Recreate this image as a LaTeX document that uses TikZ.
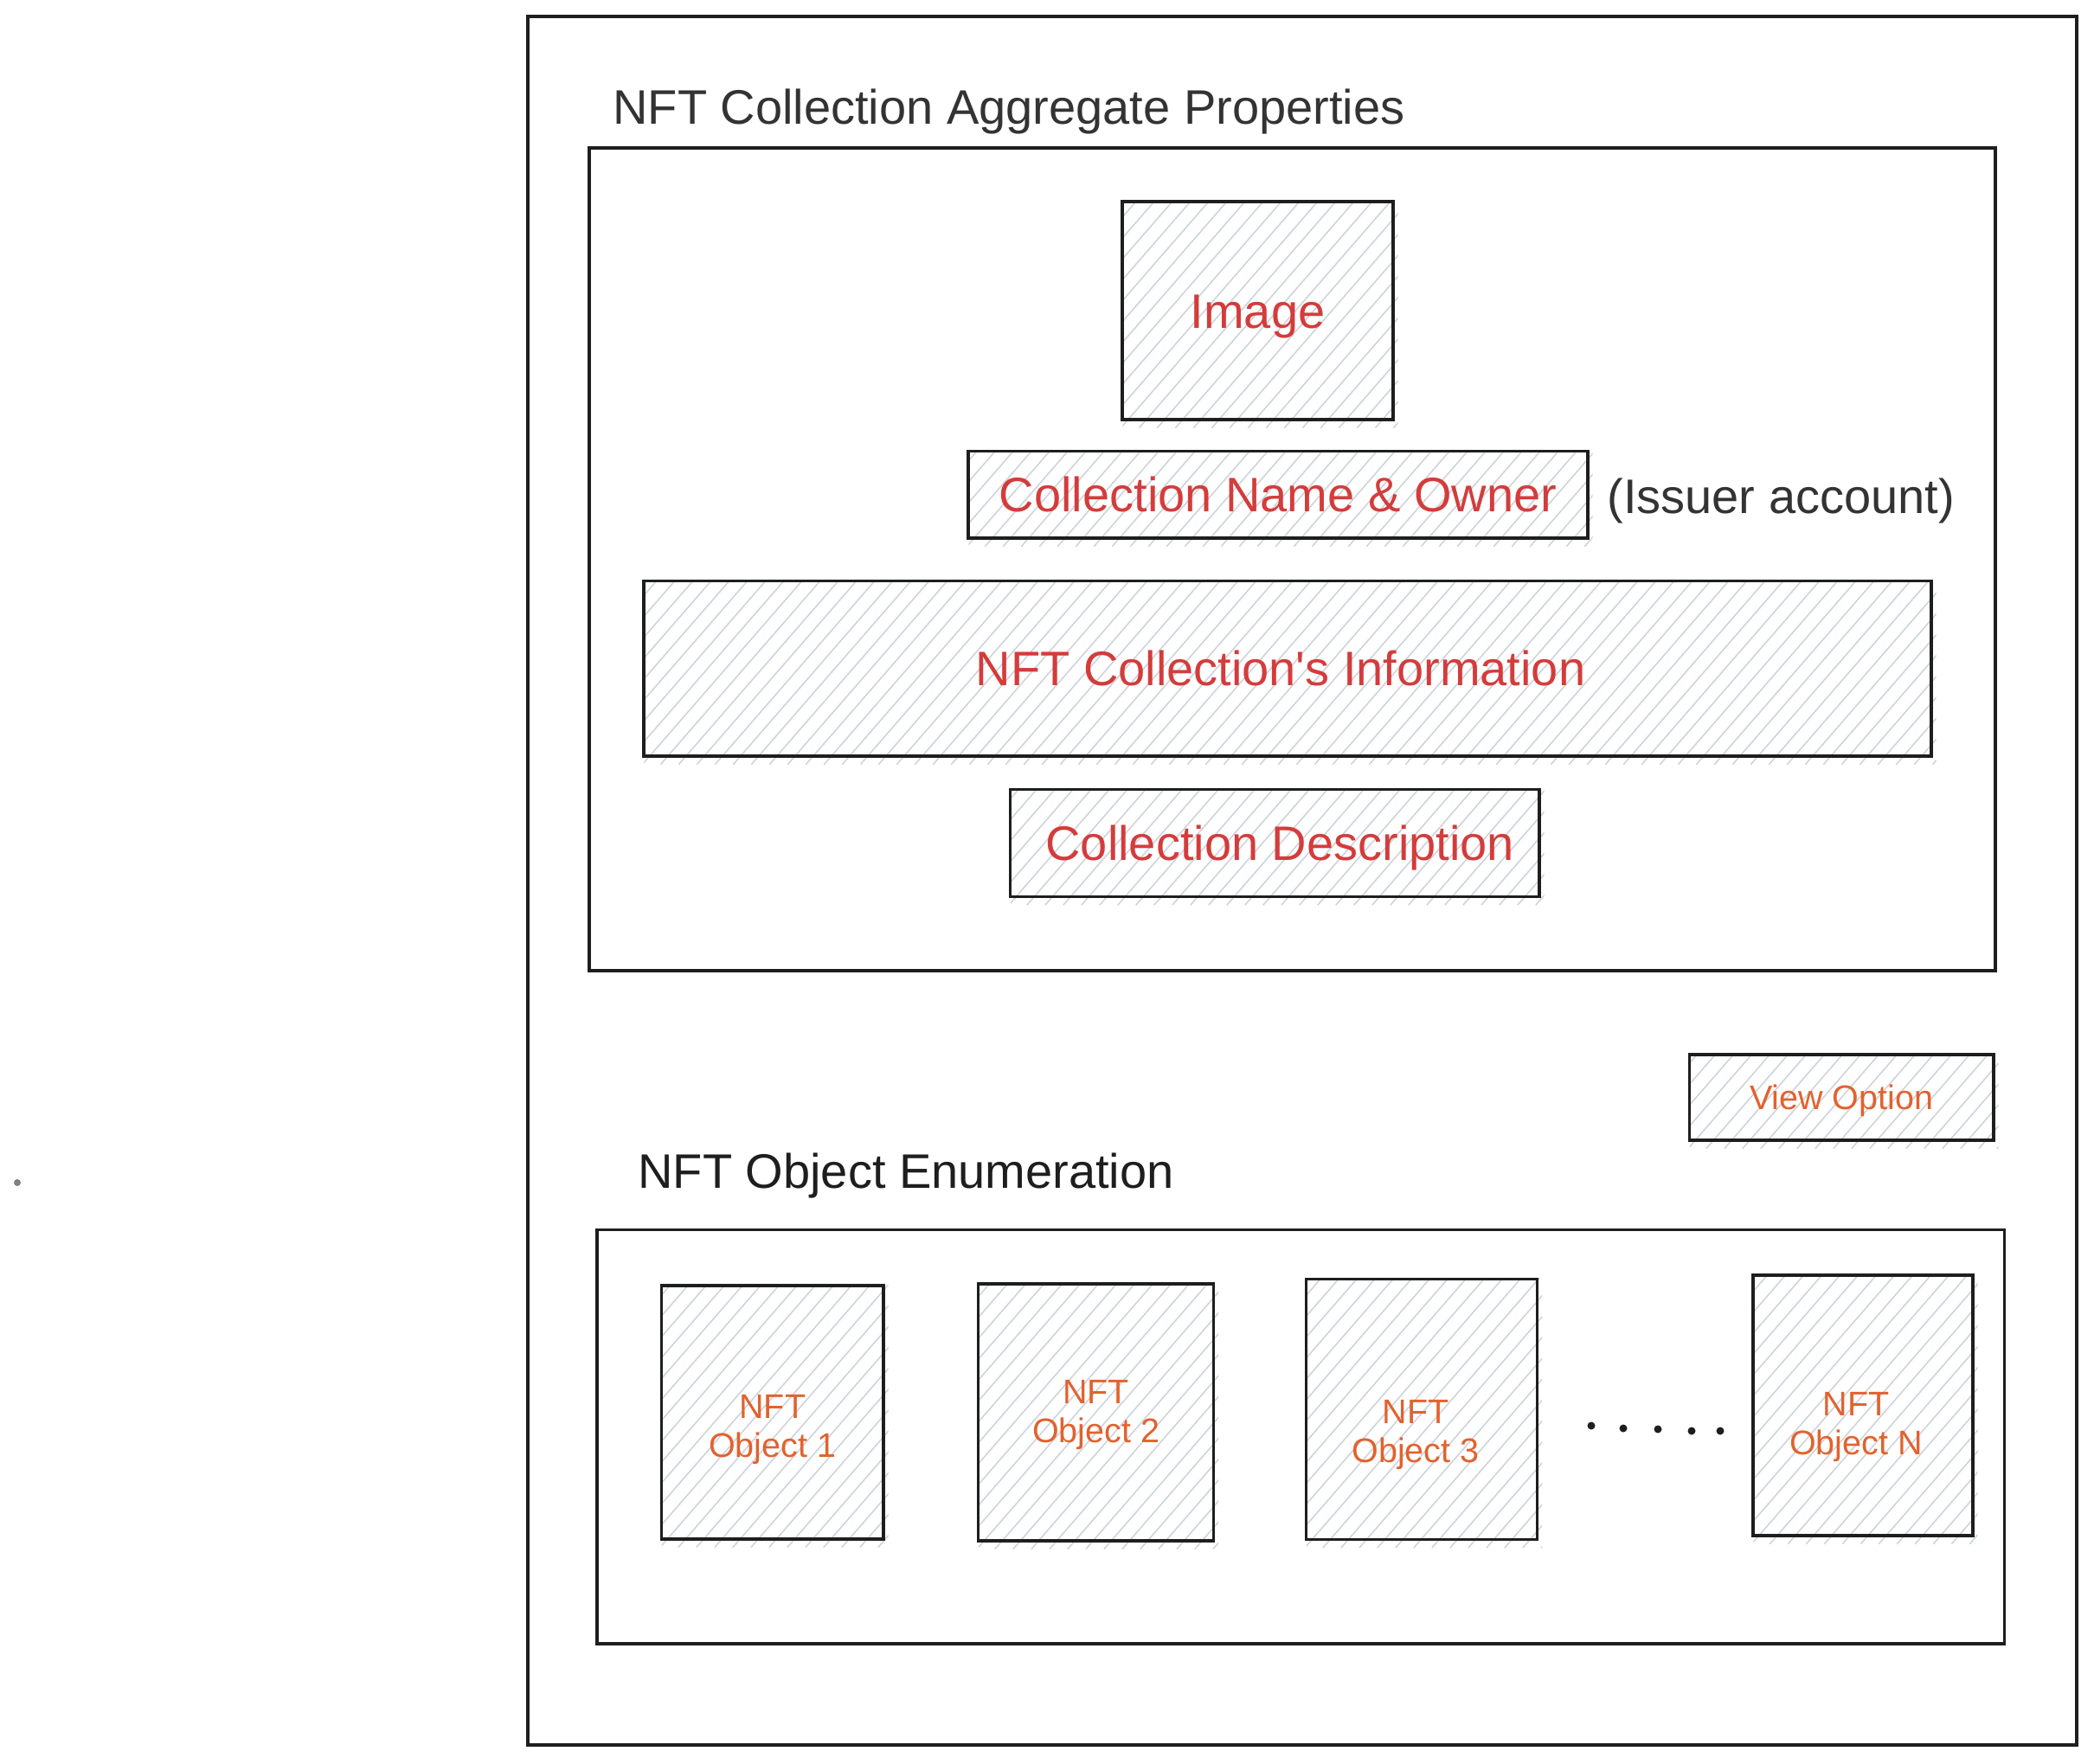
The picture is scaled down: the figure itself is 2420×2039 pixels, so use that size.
\documentclass[tikz,border=0pt]{standalone}
\usepackage{fontspec}
\setmainfont{Liberation Sans}
\pgfdeclarelayer{background}
\pgfsetlayers{background,main}
\definecolor{ink}{HTML}{1E1E1E}
\definecolor{dgrey}{HTML}{333333}
\definecolor{nred}{HTML}{D43C3C}
\definecolor{norange}{HTML}{E2622E}
\definecolor{hatchc}{HTML}{CED4DA}
\definecolor{strayc}{HTML}{808080}
\newcommand{\hatchbox}[1]{%
  \begin{scope}
    \clip ([shift={(2,1)}]#1.north west) rectangle ([shift={(4,8)}]#1.south east);
    \foreach \k in {-20,...,75}{\draw[hatchline] ([xshift=\k*10.5pt]#1.south west) ++(0,8) -- ++(49:300pt);}
  \end{scope}}
\begin{document}
\begin{tikzpicture}[x=0.5pt,y=-0.5pt,
  box/.style={draw=ink, line width=1.7pt, rectangle, inner sep=0pt},
  big/.style={font=\fontsize{28}{33}\selectfont},
  bigc/.style={big, text height=20pt, text depth=0pt},
  small/.style={font=\fontsize{19.75}{22.5}\selectfont},
  smallc/.style={small, text height=14.1pt, text depth=0pt},
  hatchline/.style={draw=hatchc, line width=0.8pt},
  dotc/.style={circle, fill=ink, inner sep=0pt, minimum size=4.5pt},
  lbl/.style={small, text=norange, align=center, inner sep=0pt}]
\useasboundingbox (0,0) rectangle (2420,2039);

% frames
\node[box, minimum width=895pt, minimum height=999pt] (outer) at (1505,1018) {};
\node[box, minimum width=812.5pt, minimum height=475.5pt] (agg) at (1493.5,646.5) {};
\node[box, minimum width=813.25pt, minimum height=239.25pt] (enum) at (1503.25,1660.75) {};

% titles
\node[anchor=base west, inner sep=0pt, big, text=dgrey] (t1) at (708,143) {NFT Collection Aggregate Properties};
\node[anchor=base west, inner sep=0pt, big, text=ink] (t2) at (737,1373) {NFT Object Enumeration};

% aggregate contents
\node[box, minimum width=156.5pt, minimum height=126pt, bigc, text=nred] (img) at (1453.5,359) {Image};
\node[box, minimum width=358pt, minimum height=50.25pt, bigc, text=nred] (cname) at (1477,571.75) {Collection Name \& Owner};
\node[anchor=base west, inner sep=0pt, big, text=dgrey] (issuer) at (1857,593) {(Issuer account)};
\node[box, minimum width=744pt, minimum height=101.25pt, bigc, text=nred] (info) at (1488,772.75) {\hspace*{-8pt}NFT Collection\textquotesingle s Information};
\node[box, minimum width=305.75pt, minimum height=62pt, bigc, text=nred] (desc) at (1473.25,974.5) {\hspace*{6pt}Collection Description};

% view option
\node[box, minimum width=175.75pt, minimum height=49.5pt, smallc, text=norange] (view) at (2128.25,1268.5) {View Option};

% objects
\node[box, minimum width=128.25pt, minimum height=146.5pt] (o1) at (892.75,1632.5) {};
\node[box, minimum width=136pt, minimum height=148.5pt] (o2) at (1266.5,1632.5) {};
\node[box, minimum width=133.5pt, minimum height=150.5pt] (o3) at (1643,1629) {};
\node[box, minimum width=127pt, minimum height=150.5pt] (oN) at (2153,1624.5) {};

\node[lbl] (l1) at (892.8,1652.6) {NFT\\Object 1};
\node[lbl] (l2) at (1266.7,1635.6) {NFT\\Object 2};
\node[lbl] (l3) at (1636,1658) {NFT\\Object 3};
\node[lbl] (lN) at (2145,1649.4) {NFT\\Object N};

% ellipsis dots
\node[dotc] (d1) at (1839,1648) {};
\node[dotc] (d2) at (1876,1651) {};
\node[dotc] (d3) at (1916,1652) {};
\node[dotc] (d4) at (1955,1654) {};
\node[dotc] (d5) at (1988,1654) {};

% stray dot
\node[circle, fill=strayc, inner sep=0pt, minimum size=4pt] (stray) at (20,1367) {};

\begin{pgfonlayer}{background}
  \foreach \n in {img,cname,info,desc,view,o1,o2,o3,oN}{\hatchbox{\n}}
\end{pgfonlayer}
\end{tikzpicture}
\end{document}
